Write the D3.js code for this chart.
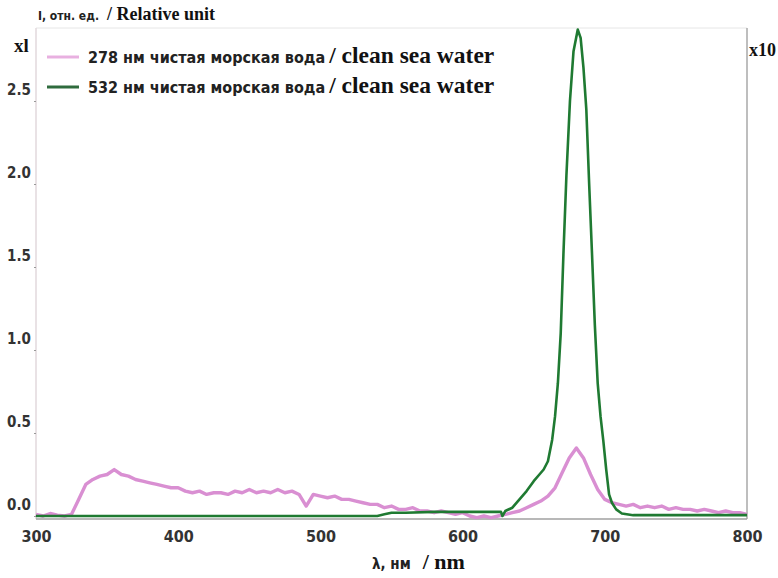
<!DOCTYPE html>
<html><head><meta charset="utf-8">
<script src="https://cdn.jsdelivr.net/npm/d3@7"></script>
<style>
body{margin:0;background:#fff;}
svg{display:block;}
.cond{font-family:"DejaVu Sans Condensed","DejaVu Sans",sans-serif;font-weight:bold;}
.serif{font-family:"Liberation Serif","Times New Roman",serif;font-weight:bold;}
</style>
</head><body>
<script>
// ---- data ----
const xTicks = [300, 400, 500, 600, 700, 800];
const yTicks = [0.0, 0.5, 1.0, 1.5, 2.0, 2.5];
const yTickLabels = ["0.0", "0.5", "1.0", "1.5", "2.0", "2.5"];

const pinkWavelengths = d3.range(300, 801, 5);
const pinkValues = [
 0.01, 0.0, 0.015, 0.005, 0.0, 0.01, 0.1, 0.19, 0.22, 0.24,
 0.25, 0.28, 0.25, 0.24, 0.22, 0.21, 0.2, 0.19, 0.18, 0.17,
 0.17, 0.15, 0.14, 0.15, 0.13, 0.14, 0.14, 0.13, 0.15, 0.14,
 0.16, 0.14, 0.15, 0.14, 0.16, 0.14, 0.15, 0.13, 0.06, 0.13,
 0.12, 0.11, 0.12, 0.10, 0.10, 0.09, 0.08, 0.07, 0.07, 0.05,
 0.06, 0.04, 0.04, 0.05, 0.03, 0.03, 0.02, 0.03, 0.02, 0.01,
 0.02, 0.0, -0.01, 0.0, -0.01, 0.0, 0.01, 0.02, 0.03, 0.05,
 0.07, 0.09, 0.12, 0.17, 0.26, 0.35, 0.41, 0.35, 0.25, 0.16,
 0.10, 0.08, 0.07, 0.06, 0.07, 0.05, 0.06, 0.05, 0.06, 0.04,
 0.05, 0.04, 0.04, 0.03, 0.04, 0.03, 0.02, 0.03, 0.02, 0.02,
 0.01
];

const greenWavelengths = [300, 320, 340, 360, 380, 400, 420, 440, 460, 480, 500, 520, 540, 545, 550, 560, 580, 600, 620, 627, 628, 630, 635, 640, 645, 650, 654, 657, 660, 663, 665, 667, 669, 671, 673, 675.5, 678, 681, 683, 685, 687, 689, 691, 693, 695, 697, 699, 701, 703, 705, 708, 712, 720, 760, 800];
const greenValues = [0.0, 0.0, 0.0, 0.0, 0.0, 0.0, 0.0, 0.0, 0.0, 0.0, 0.0, 0.0, 0.0, 0.01, 0.02, 0.02, 0.025, 0.025, 0.025, 0.025, 0.0, 0.03, 0.05, 0.10, 0.15, 0.21, 0.25, 0.28, 0.33, 0.46, 0.6, 0.8, 1.1, 1.6, 2.05, 2.5, 2.8, 2.93, 2.88, 2.7, 2.45, 2.0, 1.58, 1.15, 0.8, 0.6, 0.45, 0.28, 0.13, 0.08, 0.04, 0.015, 0.005, 0.005, 0.005];

const seriesNames = ["278 нм чистая морская вода", "532 нм чистая морская вода"];
const seriesEnglish = "/ clean sea water";
const seriesColors = ["#d98fd2", "#1f7a32"];

// ---- chart ----
const W = 778, H = 578;
const svg = d3.select("body").append("svg").attr("width", W).attr("height", H);

const x = d3.scaleLinear().domain([300, 800]).range([36, 747]);
const y = d3.scaleLinear().domain([0, 2.5]).range([516, 101]);
const plotTop = 28, plotBottom = 519;

// frame
svg.append("line").attr("x1", 36).attr("x2", 747).attr("y1", plotTop).attr("y2", plotTop).attr("stroke", "#e6e6e6").attr("stroke-width", 1);
svg.append("line").attr("x1", 36).attr("x2", 36).attr("y1", plotTop).attr("y2", plotBottom).attr("stroke", "#e2d8dc").attr("stroke-width", 1.5);
svg.append("line").attr("x1", 747).attr("x2", 747).attr("y1", plotTop).attr("y2", plotBottom).attr("stroke", "#a8a8a8").attr("stroke-width", 1.5);
svg.append("line").attr("x1", 36).attr("x2", 747).attr("y1", plotBottom).attr("y2", plotBottom).attr("stroke", "#a0a0a0").attr("stroke-width", 1.5);

// y axis ticks (small marks) & labels offset above
const yAxis = d3.axisLeft(y).tickValues(yTicks).tickSize(2).tickFormat("");
const gy = svg.append("g").attr("transform", "translate(36,0)").call(yAxis);
gy.select(".domain").remove();
gy.selectAll("line").attr("stroke", "#999");
svg.selectAll(".ylab").data(yTicks).enter().append("text")
  .attr("class", "cond").attr("x", 31).attr("y", d => y(d) - 6)
  .attr("text-anchor", "end").attr("font-size", 15).attr("fill", "#333")
  .text((d, i) => yTickLabels[i]);

// x axis
const xAxis = d3.axisBottom(x).tickValues(xTicks).tickSize(0).tickPadding(10);
const gx = svg.append("g").attr("transform", `translate(0,${plotBottom})`).call(xAxis);
gx.select(".domain").remove();
gx.selectAll("text").attr("class", "cond").attr("font-size", 16).attr("fill", "#333").attr("dy", "0.8em");

// curves
const line = d3.line().x(d => x(d[0])).y(d => y(d[1]));
const pinkData = pinkWavelengths.map((w, i) => [w, pinkValues[i]]);
const greenData = greenWavelengths.map((w, i) => [w, greenValues[i]]);
svg.append("path").datum(pinkData).attr("d", line).attr("fill", "none")
  .attr("stroke", seriesColors[0]).attr("stroke-width", 3.4).attr("stroke-linejoin", "round");
svg.append("path").datum(greenData).attr("d", line).attr("fill", "none")
  .attr("stroke", seriesColors[1]).attr("stroke-width", 2.6).attr("stroke-linejoin", "round");

// legend
const legY = [57, 87];
seriesNames.forEach((name, i) => {
  svg.append("line").attr("x1", 47).attr("x2", 79).attr("y1", legY[i]).attr("y2", legY[i])
    .attr("stroke", i === 0 ? "#e8b0e0" : "#2f6b3d").attr("stroke-width", 3);
  const t = svg.append("text").attr("x", 88).attr("y", legY[i] + 6);
  t.append("tspan").attr("class", "cond").attr("font-size", 16).attr("fill", "#222").text(name);
  t.append("tspan").attr("class", "serif").attr("font-size", 23.5).attr("fill", "#111").attr("dx", 4).text(seriesEnglish);
});

// axis titles
const yt = svg.append("text").attr("x", 38).attr("y", 20);
yt.append("tspan").attr("class", "cond").attr("font-size", 12).attr("fill", "#222").text("I, отн. ед.");
yt.append("tspan").attr("class", "serif").attr("font-size", 18).attr("fill", "#111").attr("dx", 8).text("/ Relative unit");

svg.append("text").attr("class", "serif").attr("x", 14).attr("y", 52).attr("font-size", 19).attr("fill", "#111").text("xl");
svg.append("text").attr("class", "serif").attr("x", 749).attr("y", 56).attr("font-size", 18).attr("fill", "#111").text("x10");

const xt = svg.append("text").attr("x", 372).attr("y", 569);
xt.append("tspan").attr("class", "cond").attr("font-size", 15).attr("fill", "#222").text("λ, нм");
xt.append("tspan").attr("class", "serif").attr("font-size", 22).attr("fill", "#111").attr("dx", 12).text("/ nm");
</script>
</body></html>
